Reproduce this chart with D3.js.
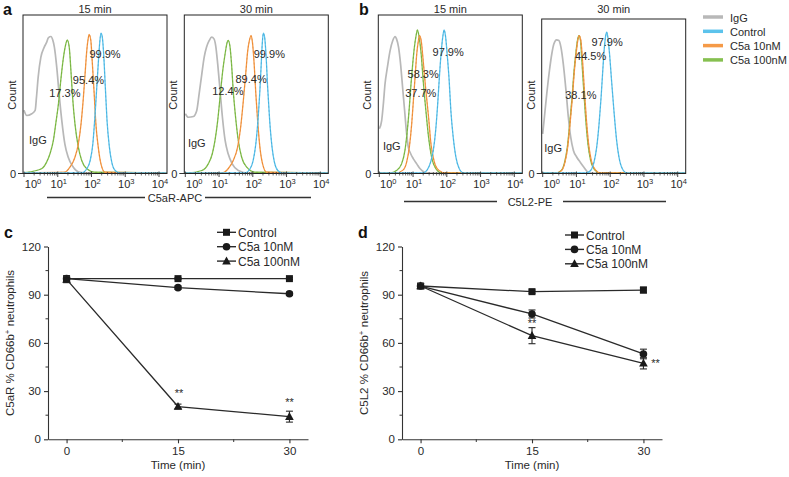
<!DOCTYPE html>
<html><head><meta charset="utf-8">
<script src="https://cdn.jsdelivr.net/npm/d3@7"></script>
<style>body{margin:0;background:#fff} text{font-family:"Liberation Sans",Arial,Helvetica,sans-serif;fill:#2a2a2a}</style>
</head><body><svg id="chart" width="789" height="477"></svg>
<script>
// ---------------- DATA ----------------
const histTitles = ["15 min", "30 min"];
const seriesNames = ["IgG", "Control", "C5a 10nM", "C5a 100nM"];
const logTickExps = [0, 1, 2, 3, 4];
const axisNameA = "C5aR-APC";
const axisNameB = "C5L2-PE";

// histograms: [log10 fluorescence, % of max count]
const a15_igg = [[0,40],[0.08,36.7],[0.23,37.8],[0.33,39.9],[0.37,48.3],[0.42,61],[0.50,73.6],[0.60,80],[0.67,83],[0.72,85.9],[0.80,86.7],[0.85,84.6],[0.90,80],[0.97,67.3],[1.04,50.4],[1.12,33.5],[1.21,18.8],[1.31,10.3],[1.46,4],[1.66,0.8],[2.0,0.2],[4.23,0.2]];
const a15_100 = [[0,0.5],[0.52,3],[0.67,7.2],[0.77,12.5],[0.87,20.9],[0.94,31.4],[1.02,44],[1.10,61],[1.17,73.6],[1.24,82],[1.28,84.6],[1.34,80],[1.39,65.2],[1.44,48.3],[1.51,31.4],[1.61,16.7],[1.71,8.2],[1.86,3],[2.10,0.8],[4.23,0.4]];
const a15_10 = [[0,0.4],[1.21,0.8],[1.36,4],[1.51,10.3],[1.61,18.8],[1.69,31.4],[1.76,48.3],[1.81,63.1],[1.86,77.8],[1.91,86.3],[1.93,88],[1.98,84.2],[2.02,71.5],[2.08,50.4],[2.13,31.4],[2.20,16.7],[2.28,6.1],[2.40,0.8],[4.23,0.4]];
const a15_ctrl = [[0,0.4],[1.71,0.4],[1.86,3],[1.96,8.2],[2.04,18.8],[2.10,35.6],[2.15,52.5],[2.20,69.4],[2.24,82],[2.28,88.8],[2.32,86.3],[2.36,75.8],[2.41,54.6],[2.46,33.5],[2.53,16.7],[2.60,7.2],[2.70,1.9],[2.84,0.4],[4.23,0.4]];

const a30_igg = [[0,37.8],[0.09,35.6],[0.24,36.1],[0.34,39.9],[0.41,50.4],[0.49,63.1],[0.56,73.6],[0.63,80],[0.71,84.2],[0.78,86.3],[0.85,85.2],[0.90,81],[0.96,69.4],[1.03,52.5],[1.10,35.6],[1.18,20.9],[1.27,12.5],[1.39,6.1],[1.57,1.9],[1.87,0.2],[4.23,0.2]];
const a30_100 = [[0,0.4],[0.09,0.4],[0.49,1.9],[0.68,6.1],[0.80,12.5],[0.88,20.9],[0.96,33.5],[1.03,48.3],[1.11,65.2],[1.18,75.8],[1.24,83],[1.27,84.2],[1.32,81],[1.37,69.4],[1.42,52.5],[1.49,35.6],[1.57,20.9],[1.67,10.3],[1.82,4],[2.07,0.8],[4.23,0.4]];
const a30_10 = [[0,0.4],[1.08,0.4],[1.27,3],[1.42,8.2],[1.55,16.7],[1.64,29.3],[1.72,46.2],[1.79,63.1],[1.85,77.8],[1.90,84.2],[1.95,87.3],[1.99,83],[2.04,69.4],[2.09,50.4],[2.15,31.4],[2.21,16.7],[2.29,6.1],[2.41,0.8],[4.23,0.4]];
const a30_ctrl = [[0,0.4],[1.77,0.4],[1.92,3],[2.01,8.2],[2.09,18.8],[2.16,35.6],[2.21,52.5],[2.25,69.4],[2.28,82],[2.31,88.8],[2.35,86.3],[2.39,75.8],[2.44,54.6],[2.50,33.5],[2.57,16.7],[2.64,7.2],[2.74,1.9],[2.86,0.4],[4.23,0.4]];

const b15_igg = [[0,28.3],[0.07,33.5],[0.12,44],[0.17,56.8],[0.24,67.3],[0.32,77.8],[0.40,84.2],[0.47,86.7],[0.51,85.2],[0.57,80],[0.63,69.4],[0.69,54.6],[0.75,39.9],[0.81,25.1],[0.86,16.7],[0.93,12.5],[1.01,9.3],[1.11,6.1],[1.21,3],[1.35,0.8],[1.60,0.2],[4.23,0.2]];
const b15_100 = [[0,0.4],[0.32,0.4],[0.51,1.9],[0.66,6.1],[0.76,14.6],[0.83,27.2],[0.89,42],[0.94,56.8],[0.99,69.4],[1.04,80],[1.09,87.3],[1.13,90.9],[1.18,86.3],[1.24,75.8],[1.30,58.9],[1.38,39.9],[1.46,23],[1.55,10.3],[1.68,3],[1.85,0.4],[4.23,0.4]];
const b15_10 = [[0,0.4],[0.51,0.4],[0.71,2.3],[0.81,7.2],[0.89,16.7],[0.96,31.4],[1.01,46.2],[1.06,61],[1.11,75.8],[1.16,84.2],[1.19,87.3],[1.24,84.2],[1.30,71.5],[1.37,54.6],[1.46,35.6],[1.53,18.8],[1.62,8.2],[1.75,2.3],[1.95,0.4],[4.23,0.4]];
const b15_ctrl = [[0,0.4],[1.30,0.4],[1.42,2.3],[1.52,7.2],[1.60,14.6],[1.67,27.2],[1.73,44],[1.78,61],[1.83,75.8],[1.88,86.3],[1.92,90.9],[1.96,87.3],[2.01,75.8],[2.07,58.9],[2.12,39.9],[2.19,23],[2.27,10.3],[2.37,3],[2.49,0.4],[4.23,0.4]];

const b30_igg = [[0,25.1],[0.04,33.5],[0.12,50.4],[0.20,65.2],[0.27,75.8],[0.33,82],[0.41,84.6],[0.48,84.2],[0.54,80],[0.61,69.4],[0.69,52.5],[0.76,35.6],[0.83,23],[0.91,14.6],[1.01,10.3],[1.11,7.2],[1.22,4],[1.35,0.8],[1.60,0.2],[4.23,0.2]];
const b30_100 = [[0,0.4],[0.40,0.4],[0.55,1.9],[0.65,7.2],[0.73,16.7],[0.80,31.4],[0.87,48.3],[0.93,65.2],[0.98,75.8],[1.03,84.2],[1.07,87.3],[1.12,84.2],[1.16,71.5],[1.21,54.6],[1.27,35.6],[1.34,18.8],[1.42,8.2],[1.54,2.3],[1.69,0.4],[4.23,0.4]];
const b30_10 = [[0,0.4],[0.41,0.4],[0.56,1.9],[0.66,7.2],[0.74,16.7],[0.81,31.4],[0.88,48.3],[0.94,65.2],[0.99,75.8],[1.04,84.2],[1.08,87.3],[1.13,84.2],[1.18,71.5],[1.23,54.6],[1.29,35.6],[1.36,18.8],[1.44,8.2],[1.56,2.3],[1.71,0.4],[4.23,0.4]];
const b30_ctrl = [[0,0.4],[1.30,0.4],[1.42,1.9],[1.52,7.2],[1.60,16.7],[1.67,31.4],[1.73,48.3],[1.78,65.2],[1.82,77.8],[1.86,86.3],[1.90,89.4],[1.93,86.3],[1.98,75.8],[2.04,58.9],[2.11,39.9],[2.19,21],[2.26,10.3],[2.36,3],[2.49,0.4],[4.23,0.4]];

// gate percentages: [Control, C5a 10nM, C5a 100nM]
const a15_pct = ["99.9%", "95.4%", "17.3%"];
const a30_pct = ["99.9%", "89.4%", "12.4%"];
const b15_pct = ["97.9%", "58.3%", "37.7%"];
const b30_pct = ["97.9%", "44.5%", "38.1%"];

// line charts
const timePoints = [0, 15, 30];
const pctTicks = [0, 30, 60, 90, 120];
const c_ctrl = [100, 100, 100],   c_ctrl_err = [0.8, 0.6, 0.6];
const c_10   = [100, 94.4, 90.6], c_10_err   = [0.8, 1.0, 1.0];
const c_100  = [99.5, 20.4, 14.1], c_100_err = [2.0, 1.5, 3.4];
const d_ctrl = [95.4, 91.9, 92.9], d_ctrl_err = [1.5, 1.0, 1.8];
const d_10   = [95.4, 78.0, 53.1], d_10_err   = [1.5, 2.5, 3.0];
const d_100  = [95.4, 64.5, 47.3], d_100_err  = [1.5, 5.0, 3.5];

// ---------------- STYLE / LAYOUT ----------------
const colIgG = "#b8b8b8", colCtrl = "#5cc3ec", col10 = "#f59a48", col100 = "#86c050";
const darkCtrl = "#2b94c8", dark10 = "#d8731c", dark100 = "#5f9a2c";
const TXT = "#2a2a2a";
const svg = d3.select("#chart");
const FONT = '"Liberation Sans",Arial,Helvetica,sans-serif';
const base = 173.5, W = 144;

const histPanels = [
  {L: 23,    top: 15, title: histTitles[0], s: [a15_igg, a15_100, a15_10, a15_ctrl], pct: a15_pct,
   pctPos: [[2.40,75.8],[1.91,58.9],[1.21,50.8]], igg: [0.41,21.3]},
  {L: 184.3, top: 15, title: histTitles[1], s: [a30_igg, a30_100, a30_10, a30_ctrl], pct: a30_pct,
   pctPos: [[2.49,75.8],[1.95,59.9],[1.26,51.9]], igg: [0.34,19.2]},
  {L: 378.3, top: 15, title: histTitles[0], s: [b15_igg, b15_100, b15_10, b15_ctrl], pct: b15_pct,
   pctPos: [[2.04,76.8],[1.30,63.1],[1.23,50.8]], igg: [0.37,17.1]},
  {L: 541.7, top: 19, title: histTitles[1], s: [b30_igg, b30_100, b30_10, b30_ctrl], pct: b30_pct,
   pctPos: [[1.91,83.5],[1.42,74.2],[1.13,49.4]], igg: [0.31,16.3]}
];
const curveCols = [[colIgG,null],[col100,dark100],[col10,dark10],[colCtrl,darkCtrl]];

histPanels.forEach(p => {
  const g = svg.append("g");
  const x = d3.scaleLog().domain([1, 1e4]).range([p.L + 1, p.L + 136]);
  const y = d3.scaleLinear().domain([0, 100]).range([base, base - 158]);
  const line = d3.line().x(d => Math.min(p.L + W, x(Math.pow(10, d[0])))).y(d => y(d[1])).curve(d3.curveMonotoneX);
  p.s.forEach((ser, i) => {
    const [c, dk] = curveCols[i];
    g.append("path").attr("d", line(ser)).attr("fill", "none").attr("stroke", c)
      .attr("stroke-width", i === 0 ? 1.7 : 1.3).attr("stroke-linejoin", "round");
    if (dk) g.append("path").attr("d", line(ser)).attr("fill", "none").attr("stroke", dk)
      .attr("stroke-width", 0.6).attr("stroke-dasharray", "2,2").attr("opacity", 0.7);
  });
  // frame
  g.append("rect").attr("x", p.L).attr("y", p.top).attr("width", W).attr("height", base - p.top)
    .attr("fill", "none").attr("stroke", "#222").attr("stroke-width", 1);
  // log ticks
  const minor = [];
  for (let e = 0; e < 4; e++) for (let m = 2; m <= 9; m++) minor.push(m * Math.pow(10, e));
  g.selectAll(".mn").data(minor).enter().append("line")
    .attr("x1", d => x(d)).attr("x2", d => x(d)).attr("y1", base - 1.5).attr("y2", base + 2)
    .attr("stroke", "#333").attr("stroke-width", 0.7);
  logTickExps.forEach(e => {
    const xv = x(Math.pow(10, e));
    g.append("line").attr("x1", xv).attr("x2", xv).attr("y1", base - 2).attr("y2", base + 3.5)
      .attr("stroke", "#333").attr("stroke-width", 0.9);
    const t = g.append("text").attr("x", xv + (e === 0 ? 9 : 1)).attr("y", 187.5)
      .attr("text-anchor", "middle").attr("font-size", 11).style("fill", TXT).text("10");
    t.append("tspan").attr("font-size", 7.5).attr("dy", -4).text(e);
  });
  // zero label
  g.append("line").attr("x1", p.L - 5).attr("x2", p.L).attr("y1", base).attr("y2", base).attr("stroke", "#333");
  g.append("text").attr("x", p.L - 7).attr("y", base + 4).attr("text-anchor", "end").attr("font-size", 11).style("fill", TXT).text("0");
  // Count label
  g.append("text").attr("transform", `translate(${p.L - 7},95) rotate(-90)`).attr("text-anchor", "middle")
    .attr("font-size", 11).style("fill", TXT).text("Count");
  // title
  g.append("text").attr("x", p.L + W / 2).attr("y", 13).attr("text-anchor", "middle").attr("font-size", 11).style("fill", TXT).text(p.title);
  // percentages
  p.pct.forEach((t, i) => {
    g.append("text").attr("x", x(Math.pow(10, p.pctPos[i][0]))).attr("y", y(p.pctPos[i][1]) + 4)
      .attr("text-anchor", "middle").attr("font-size", 11).style("fill", TXT).text(t);
  });
  g.append("text").attr("x", x(Math.pow(10, p.igg[0]))).attr("y", y(p.igg[1]) + 4)
    .attr("text-anchor", "middle").attr("font-size", 11).style("fill", TXT).text(seriesNames[0]);
});

// panel letters
[["a", 3, 15], ["b", 359, 15], ["c", 4, 238], ["d", 358, 238]].forEach(([t, xx, yy]) =>
  svg.append("text").attr("x", xx).attr("y", yy).attr("font-size", 16).attr("font-weight", "bold").style("fill", "#111").text(t));

// axis names with rule lines
function axisName(txt, cx, yy, x1, x2, x3, x4) {
  svg.append("line").attr("x1", x1).attr("x2", x2).attr("y1", yy).attr("y2", yy).attr("stroke", "#333").attr("stroke-width", 1.4);
  svg.append("line").attr("x1", x3).attr("x2", x4).attr("y1", yy).attr("y2", yy).attr("stroke", "#333").attr("stroke-width", 1.4);
  svg.append("text").attr("x", cx).attr("y", yy + 4).attr("text-anchor", "middle").attr("font-size", 11).style("fill", TXT).text(txt);
}
axisName(axisNameA, 175, 197.5, 47, 145, 205, 311);
axisName(axisNameB, 530, 201.5, 404, 497, 563, 666);

// legend top right
[colIgG, colCtrl, col10, col100].forEach((c, i) => {
  const yy = 17 + i * 14.3;
  svg.append("line").attr("x1", 703).attr("x2", 723).attr("y1", yy).attr("y2", yy).attr("stroke", c).attr("stroke-width", 3.5);
  svg.append("text").attr("x", 730).attr("y", yy + 4.5).attr("font-size", 11).style("fill", TXT).text(seriesNames[i]);
});

// ---------------- LINE CHARTS ----------------
function marker(g, type, cx, cy, s) {
  if (type === 0) g.append("rect").attr("x", cx - s / 2).attr("y", cy - s / 2).attr("width", s).attr("height", s).attr("fill", "#1a1a1a");
  else if (type === 1) g.append("circle").attr("cx", cx).attr("cy", cy).attr("r", s / 2 + 0.3).attr("fill", "#1a1a1a");
  else {
    const h = s * 1.05;
    g.append("path").attr("d", `M${cx},${cy - h * 0.62}L${cx + s * 0.62},${cy + h * 0.45}L${cx - s * 0.62},${cy + h * 0.45}Z`).attr("fill", "#1a1a1a");
  }
}
function lineChart(ax, series, errs, ylab, legX, legY, stars) {
  const g = svg.append("g");
  const x = d3.scaleLinear().domain([-2.5, 32.5]).range([ax, ax + 260]);
  const y = d3.scaleLinear().domain([0, 120]).range([439.3, 246.5]);
  const yA = d3.axisLeft(y).tickValues(pctTicks).tickSize(4).tickSizeOuter(0).tickPadding(3);
  const ya = g.append("g").attr("transform", `translate(${ax},0)`).call(yA);
  const xA = d3.axisBottom(x).tickValues(timePoints).tickSize(4).tickSizeOuter(0).tickPadding(4);
  const xa = g.append("g").attr("transform", `translate(0,439.3)`).call(xA);
  [ya, xa].forEach(a => {
    a.selectAll("path,line").attr("stroke", "#333").attr("stroke-width", 1.1);
    a.selectAll("text").attr("font-size", 11.5).attr("font-family", FONT).style("fill", TXT);
  });
  [15, 45, 75, 105].forEach(v => g.append("line").attr("x1", ax - 2.5).attr("x2", ax).attr("y1", y(v)).attr("y2", y(v)).attr("stroke", "#333"));
  [7.5, 22.5].forEach(v => g.append("line").attr("x1", x(v)).attr("x2", x(v)).attr("y1", 439.3).attr("y2", 442).attr("stroke", "#333"));
  g.append("text").attr("x", x(15)).attr("y", 469).attr("text-anchor", "middle").attr("font-size", 11.5).style("fill", TXT).text("Time (min)");
  const yl = g.append("text").attr("transform", `translate(${ax - 34},343) rotate(-90)`).attr("text-anchor", "middle").attr("font-size", 11.5).style("fill", TXT);
  yl.append("tspan").text(ylab + " % CD66b");
  yl.append("tspan").attr("font-size", 8).attr("dy", -4).text("+");
  yl.append("tspan").attr("dy", 4).text(" neutrophils");
  const lg = d3.line().x((d, i) => x(timePoints[i])).y(d => y(d));
  series.forEach((s, k) => {
    g.append("path").attr("d", lg(s)).attr("fill", "none").attr("stroke", "#2a2a2a").attr("stroke-width", 1.3);
  });
  series.forEach((s, k) => {
    s.forEach((v, i) => {
      const e = errs[k][i], cx = x(timePoints[i]);
      g.append("line").attr("x1", cx).attr("x2", cx).attr("y1", y(v + e)).attr("y2", y(v - e)).attr("stroke", "#2a2a2a").attr("stroke-width", 1.1);
      [v + e, v - e].forEach(w => g.append("line").attr("x1", cx - 3.5).attr("x2", cx + 3.5).attr("y1", y(w)).attr("y2", y(w)).attr("stroke", "#2a2a2a").attr("stroke-width", 1.1));
      marker(g, k, cx, y(v), 7);
    });
  });
  stars.forEach(([tv, yv, dx]) => g.append("text").attr("x", x(tv) + dx).attr("y", y(yv) + 4).attr("text-anchor", "middle").attr("font-size", 11).style("fill", TXT).text("**"));
  // legend
  seriesNames.slice(1).forEach((n, k) => {
    const yy = legY + k * 14.4;
    g.append("line").attr("x1", legX).attr("x2", legX + 19).attr("y1", yy).attr("y2", yy).attr("stroke", "#2a2a2a").attr("stroke-width", 1.4);
    marker(g, k, legX + 9.5, yy, 7);
    g.append("text").attr("x", legX + 21).attr("y", yy + 4.5).attr("font-size", 12).style("fill", TXT).text(n);
  });
}
lineChart(48, [c_ctrl, c_10, c_100], [c_ctrl_err, c_10_err, c_100_err], "C5aR", 217, 232.3,
  [[15, 29, 1], [30, 23.5, 0]]);
lineChart(402, [d_ctrl, d_10, d_100], [d_ctrl_err, d_10_err, d_100_err], "C5L2", 565, 235,
  [[15, 72.5, 0], [30, 47.3, 12]]);
</script></body></html>
